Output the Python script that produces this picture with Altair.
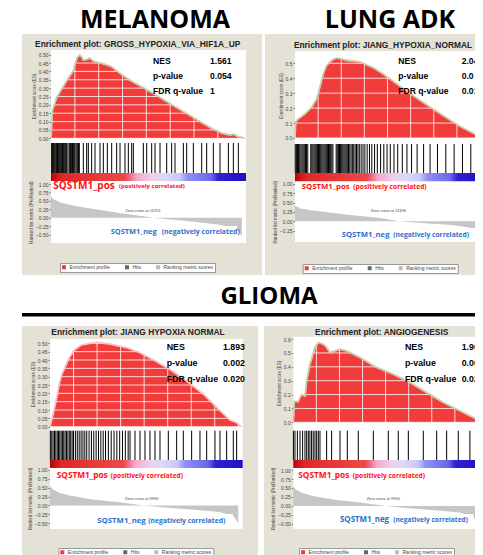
import altair as alt
import pandas as pd

# ---------------- shared text / ticks ----------------
HEAD_TOP = ["MELANOMA", "LUNG ADK"]
HEAD_BOTTOM = "GLIOMA"
STAT_NAMES = ["NES", "p-value", "FDR q-value"]
LEGEND_LABELS = ["Enrichment profile", "Hits", "Ranking metric scores"]
RANK_TICKS = [0, 2500, 5000, 7500, 10000, 12500, 15000, 17500, 20000]
RANK_TICKS_CUT = [0, 2500, 5000, 7500, 10000, 12500, 15000, 17500]
POS_LABEL = ["SQSTM1_pos", "(positively correlated)"]
NEG_LABEL = ["SQSTM1_neg", "(negatively correlated)"]
ES_TICKS_05 = [0.0, 0.05, 0.10, 0.15, 0.20, 0.25, 0.30, 0.35, 0.40, 0.45, 0.50]
ES_TICKS_5 = [0.0, 0.1, 0.2, 0.3, 0.4, 0.5]
ES_TICKS_6 = [0.0, 0.1, 0.2, 0.3, 0.4, 0.5, 0.6]
METRIC_TICKS = [1.0, 0.75, 0.5, 0.25, 0.0, -0.25, -0.5]
METRIC_TICKS_2 = [1.0, 0.75, 0.5, 0.25, 0.0, -0.25]

# ---------------- panel 1: melanoma ----------------
P1_TITLE = "Enrichment plot: GROSS_HYPOXIA_VIA_HIF1A_UP"
P1_STATS = ["1.561", "0.054", "1"]
P1_ES_RANK = [0, 140, 600, 1120, 1650, 2000, 2340, 2520, 2760, 2970, 3200, 3390, 3700, 4090, 4450,
              4800, 5500, 6300, 7200, 8200, 9300, 10700, 12000, 13300, 14500, 15800, 17000, 18000,
              18800, 19200, 19600, 20000, 20300]
P1_ES = [0.0, 0.165, 0.245, 0.295, 0.345, 0.375, 0.404, 0.444, 0.484, 0.497, 0.49, 0.468, 0.47, 0.48,
         0.462, 0.455, 0.445, 0.43, 0.39, 0.35, 0.315, 0.27, 0.225, 0.18, 0.14, 0.095, 0.055, 0.03,
         0.02, 0.025, 0.01, 0.005, 0.0]
P1_HITS = [70, 150, 245, 330, 420, 510, 595, 680, 770, 860, 945, 1030, 1120, 1200, 1294, 1380, 1468,
           1550, 1643, 1780, 1923, 2050, 2167, 2250, 2342, 2430, 2517, 2640, 2762, 2880, 2971, 3391,
           3741, 3916, 4265, 4615, 5139, 5489, 5908, 6363, 6887, 7237, 7761, 8111, 8460, 8635, 9684,
           10034, 10558, 10907, 11432, 12131, 12655, 13005, 13880, 14229, 14928, 15802, 16327, 17026,
           17725, 18600, 19124, 19648]
P1_METRIC_RANK = [0, 300, 1000, 2500, 5000, 7500, 9500, 10751, 12500, 15000, 17500, 19000, 19700, 20000]
P1_METRIC = [0.62, 0.55, 0.45, 0.35, 0.24, 0.13, 0.05, 0.0, -0.05, -0.12, -0.2, -0.28, -0.4, -0.55]
P1_ZERO = "Zero cross at 10751"

# ---------------- panel 2: lung adk ----------------
P2_TITLE = "Enrichment plot: JIANG_HYPOXIA_NORMAL"
P2_STATS = ["2.048", "0.0", "0.013"]
P2_ES_RANK = [0, 75, 360, 1081, 1800, 2340, 2700, 3060, 3420, 3960, 4500, 5000, 5589, 6300, 7027,
              7700, 8465, 9500, 10627, 12400, 14238, 16000, 17838, 19000, 20000, 20400]
P2_ES = [0.0, 0.11, 0.128, 0.161, 0.206, 0.262, 0.345, 0.43, 0.485, 0.52, 0.535, 0.53, 0.52, 0.515,
         0.51, 0.49, 0.47, 0.43, 0.38, 0.30, 0.223, 0.15, 0.078, 0.04, 0.01, 0.0]
P2_HITS = [30, 150, 270, 390, 510, 640, 760, 880, 1000, 1130, 1250, 1380, 1700, 1820, 1940, 2060,
           2180, 2300, 2420, 2540, 2660, 2780, 2900, 3020, 3140, 3260, 3380, 3500, 3620, 3740, 3860,
           3980, 4100, 4450, 4570, 4690, 4810, 4930, 5050, 5170, 5290, 5410, 5530, 5650, 5780, 5920,
           6060, 6200, 6350, 6500, 6650, 6800, 6950, 7150, 7350, 7550, 7800, 8050, 8300, 8600, 8900,
           9250, 9600, 9950, 10300, 10700, 11100, 11600, 12100, 12600, 13200, 13900, 14600, 15400,
           16300, 17200, 18100, 19000, 19700]
P2_METRIC_RANK = [0, 500, 1500, 3300, 6000, 9400, 11198, 14000, 17000, 19000, 20000]
P2_METRIC = [0.42, 0.35, 0.3, 0.25, 0.17, 0.08, 0.0, -0.05, -0.1, -0.17, -0.3]
P2_ZERO = "Zero cross at 11198"

# ---------------- panel 3: glioma / jiang hypoxia ----------------
P3_TITLE = "Enrichment plot: JIANG HYPOXIA NORMAL"
P3_STATS = ["1.893", "0.002", "0.020"]
P3_ES_RANK = [0, 350, 700, 1000, 1300, 1700, 2100, 2600, 3300, 4200, 5200, 6400, 8100, 9500, 11000,
              12700, 14500, 16300, 18000, 19100, 19800, 20300]
P3_ES = [0.0, 0.08, 0.17, 0.26, 0.32, 0.37, 0.42, 0.46, 0.49, 0.50, 0.505, 0.495, 0.475, 0.445, 0.40,
         0.345, 0.275, 0.195, 0.10, 0.04, 0.025, 0.0]
P3_HITS = [40, 190, 330, 480, 620, 770, 900, 1040, 1180, 1320, 1460, 1600, 1750, 1900, 2050, 2200,
           2350, 2500, 2700, 2900, 3100, 3300, 3500, 3700, 3900, 4150, 4400, 4650, 4900, 5150, 5400,
           5650, 5900, 6200, 6500, 6800, 7100, 7400, 7700, 8000, 8300, 8500, 9027, 9558, 10089,
           10620, 11151, 11682, 12567, 13452, 14160, 15045, 15930, 16638, 17523, 18054, 18762,
           19470, 19824]
GLIOMA_METRIC_RANK = [0, 300, 1000, 2100, 4500, 7400, 9990, 12500, 15000, 18000, 19500, 20000]
GLIOMA_METRIC = [0.55, 0.45, 0.36, 0.28, 0.17, 0.09, 0.0, -0.06, -0.11, -0.18, -0.3, -0.5]
GLIOMA_ZERO = "Zero cross at 9990"

# ---------------- panel 4: glioma / angiogenesis ----------------
P4_TITLE = "Enrichment plot: ANGIOGENESIS"
P4_STATS = ["1.905", "0.001", "0.028"]
P4_ES_RANK = [0, 100, 540, 722, 903, 1264, 1445, 1805, 2347, 2708, 3249, 3610, 3971, 4500, 5054,
              5776, 7220, 9025, 10830, 12630, 14440, 16240, 18050, 19490, 20400]
P4_ES = [0.0, 0.15, 0.15, 0.18, 0.2, 0.19, 0.30, 0.42, 0.54, 0.576, 0.563, 0.54, 0.504, 0.515, 0.527,
         0.515, 0.468, 0.396, 0.347, 0.288, 0.216, 0.144, 0.083, 0.036, 0.0]
P4_HITS = [10, 180, 440, 730, 1010, 1265, 1450, 1625, 1800, 1980, 2160, 2350, 2530, 2710, 2890,
           3610, 4150, 5060, 5850, 7040, 8670, 10290, 11370, 12460, 14080, 15530, 16610, 17870,
           19130, 19850]

# ---------------- styling / layout ----------------
GRAY = "#e4e2d6"
RED = "#f23c3c"
POS_COLOR = "#ff1010"
NEG_COLOR = "#2a72cc"
CB_OFFSETS = [0.0, 0.03, 0.06, 0.38, 0.41, 0.44, 0.52, 0.58, 0.66, 0.70, 0.82, 0.86, 1.0]
CB_COLORS = ["#c00000", "#d01515", "#e02828", "#ec4848", "#f07090", "#f4a8c8", "#eed0ea",
             "#dcd8f8", "#c8c8fa", "#9090f4", "#6868ee", "#3020d0", "#2010c0"]

L1 = dict(W=240, H=241, xmax=20450, x=[29, 224], es_dom=[-0.022, 0.528], es=[108, 16],
          hits=[139, 109], cb=[147, 139], rk_dom=[-0.746, 1.089], rk=[209, 147], leg=[38, 229],
          title_at=[9092, 0.564], stat_x=[10697, 16674], stat_y=[0.462, 0.373, 0.283],
          stat_align="left", pos_at=[241, 0.932, 7131], neg_at=[6261, -0.42, 11609],
          neg_box=[0, 19506, -0.242, -0.627], zero_at=[9648, 0.21], es_fmt=".2f",
          pos_fs=[10, 6.0], neg_fs=[7.4, 6.9], stat_fs=8.6, green=True, xticks=RANK_TICKS)
L2 = dict(W=210, H=241, xmax=20450, x=[30, 219.2], es_dom=[-0.0134, 0.582], es=[106, 17],
          hits=[139, 110], cb=[147.3, 139], rk_dom=[-0.55, 1.064], rk=[208, 147.3], leg=[37.7, 230],
          title_at=[9512, 0.625], stat_x=[11166, 18018], stat_y=[0.517, 0.417, 0.317],
          stat_align="left", pos_at=[724, 0.904, 6302], neg_at=[5048, -0.356, 10625],
          neg_box=[0, 19780, -0.178, -0.49], zero_at=[10085, 0.266], es_fmt=".1f",
          pos_fs=[7.8, 6.7], neg_fs=[7.7, 6.7], stat_fs=8.6, green=True, xticks=RANK_TICKS_CUT)
L3 = dict(W=236, H=250, xmax=20467, x=[28, 220.7], es_dom=[-0.0138, 0.526], es=[103, 13],
          hits=[134, 104.7], cb=[142, 134], rk_dom=[-0.662, 1.056], rk=[203, 142], leg=[36.3, 222],
          title_at=[9346, 0.566], stat_x=[12395, 20711], stat_y=[0.476, 0.38, 0.286],
          stat_align="right", pos_at=[712, 0.839, 6447], neg_at=[5024, -0.428, 10440],
          neg_box=[0, 19436, -0.24, -0.6], zero_at=[9739, 0.183], es_fmt=".2f",
          pos_fs=[8.3, 6.6], neg_fs=[7.8, 6.8], stat_fs=8.8, green=False, xticks=RANK_TICKS)
L4 = dict(W=211, H=250, xmax=20450, x=[29.3, 218.1], es_dom=[-0.048, 0.617], es=[103, 10.7],
          hits=[134, 104.7], cb=[142, 134], rk_dom=[-0.64, 1.056], rk=[203, 142], leg=[35, 222],
          title_at=[9576, 0.649], stat_x=[12099, 18241], stat_y=[0.541, 0.426, 0.312],
          stat_align="left", pos_at=[542, 0.842, 6434], neg_at=[5059, -0.388, 10832],
          neg_box=[0, 19500, -0.222, -0.583], zero_at=[9749, 0.195], es_fmt=".1f",
          pos_fs=[8.3, 6.6], neg_fs=[7.9, 6.6], stat_fs=8.8, green=True, xticks=RANK_TICKS_CUT)

AX = dict(labelFont="Liberation Sans", labelFontSize=5, labelColor="#444",
          titleFont="Liberation Sans", titleFontSize=4.5, titleColor="#444", titleFontWeight="normal",
          tickColor="#777", tickSize=2, domain=False, grid=False, labelOverlap=False,
          labelFlush=False, labelPadding=1)


def panel(title, stats, es_rank, es_vals, hits, m_rank, m_vals, zero_txt, es_ticks, m_ticks, L,
          heading=None, heading_dx=0):
    xmax = L["xmax"]
    xs = alt.Scale(domain=[0, xmax], range=L["x"], nice=False, zero=False)

    def sc(dom, rng):
        return alt.Scale(domain=dom, range=rng, nice=False, zero=False)

    s_es = sc(L["es_dom"], L["es"])
    s_hit = sc([0, 1], L["hits"])
    s_cb = sc([0, 1], L["cb"])
    s_rk = sc(L["rk_dom"], L["rk"])
    s_fr = sc([0, 1], [L["rk"][0], L["es"][1]])

    def X(f, axis=None):
        return alt.X(f, type="quantitative", scale=xs, axis=axis)

    def Y(f, s, axis=None):
        return alt.Y(f, type="quantitative", scale=s, axis=axis)

    es_df = pd.DataFrame({"rank": es_rank, "es": es_vals, "base": 0.0,
                          "series": LEGEND_LABELS[0]})
    hit_df = pd.DataFrame({"rank": hits, "lo": 0.0, "hi": 1.0})
    rk_df = pd.DataFrame({"rank": m_rank, "m": m_vals, "base": 0.0})
    frame_df = pd.DataFrame({"a": [0], "b": [xmax], "lo": [0.0], "hi": [1.0]})
    gh_df = pd.DataFrame({"v": es_ticks, "a": 0, "b": xmax})
    gv_df = pd.DataFrame({"r": RANK_TICKS[1:], "lo": L["es_dom"][0], "hi": L["es_dom"][1]})

    x_axis = alt.Axis(orient="bottom", offset=-(L["H"] - L["rk"][0]), values=L["xticks"],
                      labelExpr="replace(format(datum.value, ',d'), ',', ' ')",
                      title="Rank in Ordered Dataset", titlePadding=1.5,
                      **{**AX, "titleFontSize": 5.5})
    es_axis = alt.Axis(orient="left", offset=-L["x"][0], values=es_ticks, format=L["es_fmt"],
                       title="Enrichment score (ES)", titlePadding=2, **AX)
    rk_axis = alt.Axis(orient="left", offset=-L["x"][0], values=m_ticks, format=".2f",
                       title="Ranked list metric (PreRanked)", titlePadding=2, **AX)

    frame = alt.Chart(frame_df).mark_rect(color="white", clip=True).encode(
        x=X("a", x_axis), x2="b:Q", y=Y("lo", s_fr), y2="hi:Q")

    legend = alt.Legend(orient="none", legendX=L["leg"][0], legendY=L["leg"][1],
                        direction="horizontal", title=None, labelFont="Liberation Sans",
                        labelFontSize=5, labelColor="#444", symbolType="square", symbolSize=16,
                        symbolStrokeWidth=0, strokeColor="#999", fillColor="white", padding=1.5,
                        columnPadding=14, labelOffset=3)
    area = alt.Chart(es_df).mark_area(interpolate="linear", clip=True).encode(
        x=X("rank"), y=Y("es", s_es, es_axis), y2="base:Q",
        color=alt.Color("series:N", scale=alt.Scale(domain=LEGEND_LABELS,
                                                     range=[RED, "#666666", "#bbbbbb"]),
                        legend=legend))
    grid_h = alt.Chart(gh_df).mark_rule(color="white", strokeWidth=0.8, clip=True).encode(
        x=X("a"), x2="b:Q", y=Y("v", s_es))
    grid_v = alt.Chart(gv_df).mark_rule(color="white", strokeWidth=0.8, clip=True).encode(
        x=X("r"), y=Y("lo", s_es), y2="hi:Q")
    edge = alt.Chart(es_df).mark_line(color="#f6c4c4", strokeWidth=1.8, clip=True).encode(
        x=X("rank"), y=Y("es", s_es))
    layers = [frame, area, grid_h, grid_v, edge]
    if L["green"]:
        layers.append(alt.Chart(es_df).mark_line(color="#96e296", strokeWidth=0.9, clip=True).encode(
            x=X("rank"), y=Y("es", s_es)))

    hit_l = alt.Chart(hit_df).mark_rule(color="black", strokeWidth=1, clip=True).encode(
        x=X("rank"), y=Y("lo", s_hit), y2="hi:Q")
    cb = alt.Chart(frame_df).mark_rect(
        color={"gradient": "linear", "x1": 0, "x2": 1, "y1": 0, "y2": 0,
               "stops": [{"offset": o, "color": c} for o, c in zip(CB_OFFSETS, CB_COLORS)]},
        clip=True).encode(x=X("a"), x2="b:Q", y=Y("lo", s_cb), y2="hi:Q")
    rk_area = alt.Chart(rk_df).mark_area(color="#c6c6c6", clip=True).encode(
        x=X("rank"), y=Y("m", s_rk, rk_axis), y2="base:Q")
    nb = L["neg_box"]
    box_df = pd.DataFrame({"a": [nb[0]], "b": [nb[1]], "lo": [nb[3]], "hi": [nb[2]]})
    box = alt.Chart(box_df).mark_rect(color="white", clip=True).encode(
        x=X("a"), x2="b:Q", y=Y("lo", s_rk), y2="hi:Q")
    layers += [hit_l, cb, rk_area, box]

    def text_layer(df, s, **kw):
        base = dict(font="Liberation Sans", fontWeight="bold", baseline="middle", align="left",
                    clip=True)
        base.update(kw)
        return alt.Chart(df).mark_text(**base).encode(x=X("x"), y=Y("y", s), text="t:N")

    t_df = pd.DataFrame({"x": [L["title_at"][0]], "y": [L["title_at"][1]], "t": [title]})
    layers.append(text_layer(t_df, s_es, align="center", fontSize=8.4, color="#222222"))
    sn_df = pd.DataFrame({"x": L["stat_x"][0], "y": L["stat_y"], "t": STAT_NAMES})
    sv_df = pd.DataFrame({"x": L["stat_x"][1], "y": L["stat_y"], "t": stats})
    layers.append(text_layer(sn_df, s_es, fontSize=L["stat_fs"], color="black"))
    layers.append(text_layer(sv_df, s_es, fontSize=L["stat_fs"], color="black",
                             align=L["stat_align"]))

    pa, na = L["pos_at"], L["neg_at"]
    layers.append(text_layer(pd.DataFrame({"x": [pa[0]], "y": [pa[1]], "t": [POS_LABEL[0]]}), s_rk,
                             font="Open Sans", fontSize=L["pos_fs"][0], color=POS_COLOR))
    layers.append(text_layer(pd.DataFrame({"x": [pa[2]], "y": [pa[1]], "t": [POS_LABEL[1]]}), s_rk,
                             font="Open Sans", fontSize=L["pos_fs"][1], color=POS_COLOR))
    layers.append(text_layer(pd.DataFrame({"x": [na[0]], "y": [na[1]], "t": [NEG_LABEL[0]]}), s_rk,
                             font="Open Sans", fontSize=L["neg_fs"][0], color=NEG_COLOR))
    layers.append(text_layer(pd.DataFrame({"x": [na[2]], "y": [na[1]], "t": [NEG_LABEL[1]]}), s_rk,
                             font="Open Sans", fontSize=L["neg_fs"][1], color=NEG_COLOR))
    z_df = pd.DataFrame({"x": [L["zero_at"][0]], "y": [L["zero_at"][1]], "t": [zero_txt]})
    layers.append(text_layer(z_df, s_rk, align="center", fontSize=4, fontWeight="normal",
                             color="#444444"))

    props = dict(width=L["W"], height=L["H"], view=alt.ViewBackground(fill=GRAY, stroke=None))
    if heading:
        props["title"] = alt.TitleParams(heading, font="Open Sans", fontSize=25, fontWeight="bold",
                                         anchor="middle", baseline="bottom", offset=-24,
                                         dx=heading_dx, color="black")
    return alt.layer(*layers).resolve_scale(y="independent").properties(**props)


p1 = panel(P1_TITLE, P1_STATS, P1_ES_RANK, P1_ES, P1_HITS, P1_METRIC_RANK, P1_METRIC, P1_ZERO,
           ES_TICKS_05, METRIC_TICKS, L1, HEAD_TOP[0], 13)
p2 = panel(P2_TITLE, P2_STATS, P2_ES_RANK, P2_ES, P2_HITS, P2_METRIC_RANK, P2_METRIC, P2_ZERO,
           ES_TICKS_5, METRIC_TICKS_2, L2, HEAD_TOP[1], 20)
p3 = panel(P3_TITLE, P3_STATS, P3_ES_RANK, P3_ES, P3_HITS, GLIOMA_METRIC_RANK, GLIOMA_METRIC,
           GLIOMA_ZERO, ES_TICKS_05, METRIC_TICKS, L3)
p4 = panel(P4_TITLE, P4_STATS, P4_ES_RANK, P4_ES, P4_HITS, GLIOMA_METRIC_RANK, GLIOMA_METRIC,
           GLIOMA_ZERO, ES_TICKS_6, METRIC_TICKS, L4)

line_df = pd.DataFrame({"a": [0.0], "b": [1.0], "lo": [0.0], "hi": [1.0]})
rule = alt.Chart(line_df).mark_rect(color="black").encode(
    x=alt.X("a:Q", scale=alt.Scale(domain=[0, 1], nice=False), axis=None), x2="b:Q",
    y=alt.Y("lo:Q", scale=alt.Scale(domain=[0, 1], nice=False), axis=None), y2="hi:Q"
).properties(width=453, height=3.5, view=alt.ViewBackground(stroke=None),
             title=alt.TitleParams(HEAD_BOTTOM, font="Open Sans", fontSize=24, fontWeight="bold",
                                   anchor="middle", baseline="bottom", offset=-19.5, dx=20.5,
                                   color="black"))

top = alt.hconcat(p1, p2, spacing=3).resolve_scale(color="independent")
bottom = alt.hconcat(p3, p4, spacing=6).resolve_scale(color="independent")
chart = alt.vconcat(top, rule, bottom, spacing=9).resolve_scale(color="independent").properties(
    padding={"left": 14, "top": 0, "right": 0, "bottom": 0}, background="white"
).configure_view(stroke=None)

chart.save("out.html", embed_options={"renderer": "svg", "actions": False})
